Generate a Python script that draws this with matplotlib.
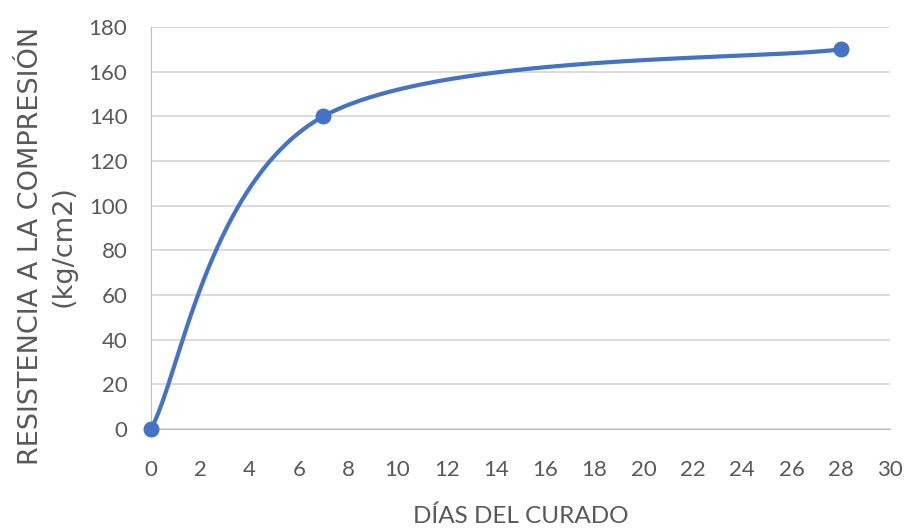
import numpy as np
import matplotlib.pyplot as plt

# curing age (days) vs compressive strength (kg/cm2)
dias = [0, 7, 28]
resistencia = [0, 140, 170]

x_ticks = list(range(0, 31, 2))
y_ticks = list(range(0, 181, 20))

LINE = "#4472C4"
TEXT = "#595959"


def bezier_smooth(xs, ys, n=200):
    """Spreadsheet-style smoothed line: cubic Bezier segments, tension 1/6."""
    p = np.column_stack([xs, ys]).astype(float)
    out = []
    for i in range(len(p) - 1):
        p0 = p[i - 1] if i > 0 else p[i]
        p1, p2 = p[i], p[i + 1]
        p3 = p[i + 2] if i + 2 < len(p) else p[i + 1]
        c1 = p1 + (p2 - p0) / 6.0
        c2 = p2 - (p3 - p1) / 6.0
        t = np.linspace(0, 1, n)[:, None]
        seg = ((1 - t) ** 3) * p1 + 3 * ((1 - t) ** 2) * t * c1 \
            + 3 * (1 - t) * t ** 2 * c2 + t ** 3 * p2
        out.append(seg)
    return np.vstack(out)


plt.rcParams["font.family"] = ["Lato", "DejaVu Sans"]

fig = plt.figure(figsize=(9.13, 5.31), dpi=100)
ax = fig.add_axes([151 / 913, 1 - 429 / 531, 739 / 913, 402 / 531])

curve = bezier_smooth(dias, resistencia)
ax.plot(curve[:, 0], curve[:, 1], color=LINE, lw=3, solid_capstyle="round", zorder=3)
ax.plot(dias, resistencia, "o", color=LINE, ms=10.5, zorder=4, clip_on=False)

ax.set_xlim(0, 30)
ax.set_ylim(0, 180)
ax.set_xticks(x_ticks)
ax.set_yticks(y_ticks)
ax.grid(axis="y", color="#D9D9D9", lw=1.3)
ax.set_axisbelow(True)
for side in ("top", "right"):
    ax.spines[side].set_visible(False)
ax.spines["left"].set_color("#BFBFBF")
ax.spines["bottom"].set_color("#BFBFBF")
ax.tick_params(length=0, labelsize=16, colors=TEXT)
ax.tick_params(axis="y", pad=17)
ax.tick_params(axis="x", pad=22)

ax.set_xlabel("DÍAS DEL CURADO", fontsize=17.5, color=TEXT)
ax.xaxis.set_label_coords(0.5, -0.19)
ax.set_ylabel("RESISTENCIA A LA COMPRESIÓN\n(kg/cm2)", fontsize=19.5, color=TEXT,
              linespacing=1.35, family=["DejaVu Sans"])
ax.yaxis.set_label_coords(-0.1, 0.455)

fig.savefig("out.png", dpi=100)
